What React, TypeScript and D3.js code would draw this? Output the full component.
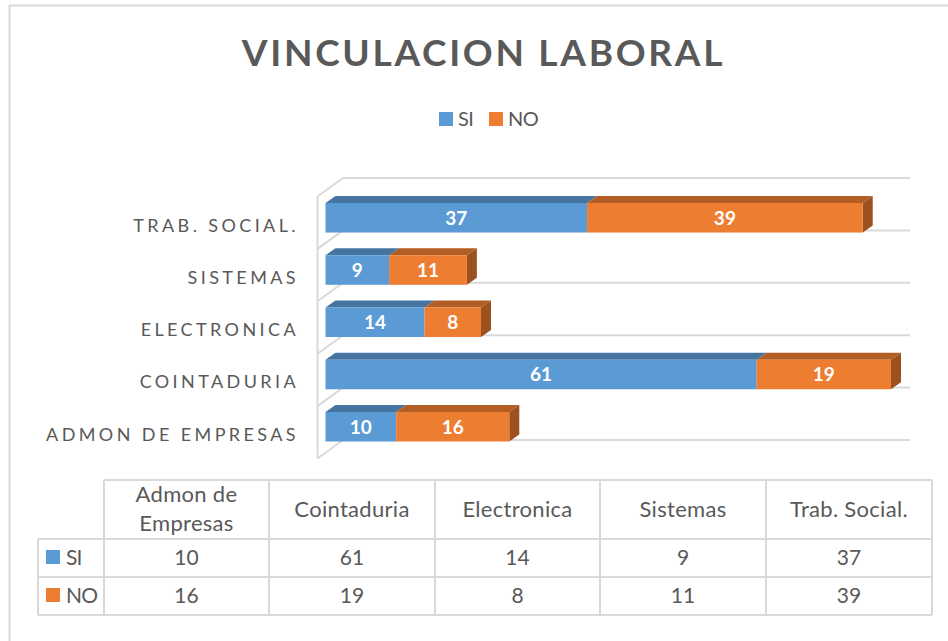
import React from "react";
import * as d3 from "d3";

const categories = ["ADMON DE EMPRESAS", "COINTADURIA", "ELECTRONICA", "SISTEMAS", "TRAB. SOCIAL."];
const tableHeaders = [["Admon de", "Empresas"], ["Cointaduria"], ["Electronica"], ["Sistemas"], ["Trab. Social."]];
const seriesNames = ["SI", "NO"];
const siValues = [10, 61, 14, 9, 37];
const noValues = [16, 19, 8, 11, 39];
const seriesColors = ["#5B9BD5", "#ED7D31"];
const seriesTop = ["#44749F", "#B15D24"];
const seriesSide = ["#3F6D96", "#9C521E"];
const title = "VINCULACION LABORAL";

const FONT = "Lato, 'Open Sans', sans-serif";
const GRID = "#D9D9D9";
const TEXT = "#595959";

const x = d3.scaleLinear().domain([0, 80]).range([325.5, 891]);
const y = d3.scaleBand().domain(categories).range([441.5, 203]).paddingInner(0.435).paddingOuter(0);
const dx = 10;
const dy = 7;
const wallTicks = [0, 1, 2, 3, 4, 5];
const wallY = d3.scaleLinear().domain([0, 5]).range([440, 178]);
const colX = [104, 269, 435, 600, 766, 932];
const rowY = [480, 539, 577, 615];

export default function App() {
  const stack = d3.stack<number>().keys(["0", "1"]).value((i, k) => (k === "0" ? siValues[i] : noValues[i]));
  const layers = stack(d3.range(categories.length));
  return (
    <svg width={948} height={641} style={{ position: "absolute", left: 0, top: 0, background: "#fff", fontFamily: FONT }}>
      <path d="M9.5 641V5.5H948" fill="none" stroke={GRID} strokeWidth={2} />
      <text x={483.5} y={66} textAnchor="middle" fontSize={37} fontWeight={700} letterSpacing={2.7} fill={TEXT}>{title}</text>

      <g fontSize={20} fill={TEXT} letterSpacing={-0.6}>
        {seriesNames.map((n, i) => (
          <g key={n} transform={`translate(${i === 0 ? 439 : 489},112)`}>
            <rect width={14} height={14} fill={seriesColors[i]} />
            <text x={19} y={14}>{n}</text>
          </g>
        ))}
      </g>

      <g fill="none" stroke={GRID} strokeWidth={2}>
        {wallTicks.map((t) => (
          <g key={t}>
            <line x1={343} x2={910} y1={wallY(t)} y2={wallY(t)} />
            <line x1={317.5} x2={343} y1={wallY(t) + 18.5} y2={wallY(t)} />
          </g>
        ))}
        <line x1={317.5} x2={317.5} y1={wallY(5) + 18.5} y2={wallY(0) + 18.5} />
      </g>

      {categories.map((c, ci) => {
        const top = y(c)!;
        const h = y.bandwidth();
        return (
          <g key={c}>
            {layers.map((l, si) => {
              const x0 = x(l[ci][0]);
              const x1 = x(l[ci][1]);
              return (
                <g key={si}>
                  <path d={`M${x0} ${top}L${x0 + dx} ${top - dy}H${x1 + dx}L${x1} ${top}Z`} fill={seriesTop[si]} />
                  {si === 1 && <path d={`M${x1} ${top}L${x1 + dx} ${top - dy}V${top + h - dy}L${x1} ${top + h}Z`} fill={seriesSide[si]} />}
                  <rect x={x0} y={top} width={x1 - x0} height={h} fill={seriesColors[si]} />
                  <text x={(x0 + x1) / 2} y={top + h / 2 + 7} textAnchor="middle" fontSize={19} fontWeight={700} fill="#fff">{l[ci][1] - l[ci][0]}</text>
                </g>
              );
            })}
            <text x={299} y={top + h / 2 + 14} textAnchor="end" fontSize={18} letterSpacing={3.4} fill={TEXT}>{c}</text>
          </g>
        );
      })}

      <g fill="none" stroke={GRID} strokeWidth={2}>
        <line x1={colX[0]} x2={colX[5]} y1={rowY[0]} y2={rowY[0]} />
        {rowY.slice(1).map((r) => <line key={r} x1={38} x2={colX[5]} y1={r} y2={r} />)}
        <line x1={38} x2={38} y1={rowY[1]} y2={rowY[3]} />
        {colX.map((c) => <line key={c} x1={c} x2={c} y1={rowY[0]} y2={rowY[3]} />)}
      </g>
      <g fontSize={21} fill={TEXT} textAnchor="middle">
        {tableHeaders.map((lines, i) => {
          const cx = (colX[i] + colX[i + 1]) / 2;
          return (
            <g key={i}>
              {lines.map((t, j) => (
                <text key={t} x={cx} y={lines.length === 2 ? 502 + j * 29 : 517} fontSize={22} letterSpacing={0.3}>{t}</text>
              ))}
              <text x={cx} y={565}>{siValues[i]}</text>
              <text x={cx} y={603}>{noValues[i]}</text>
            </g>
          );
        })}
      </g>
      {seriesNames.map((n, i) => (
        <g key={n}>
          <rect x={46} y={rowY[i + 1] + 11} width={14} height={14} fill={seriesColors[i]} />
          <text x={66} y={rowY[i + 1] + 26} fontSize={21} letterSpacing={-0.8} fill={TEXT}>{n}</text>
        </g>
      ))}
    </svg>
  );
}
